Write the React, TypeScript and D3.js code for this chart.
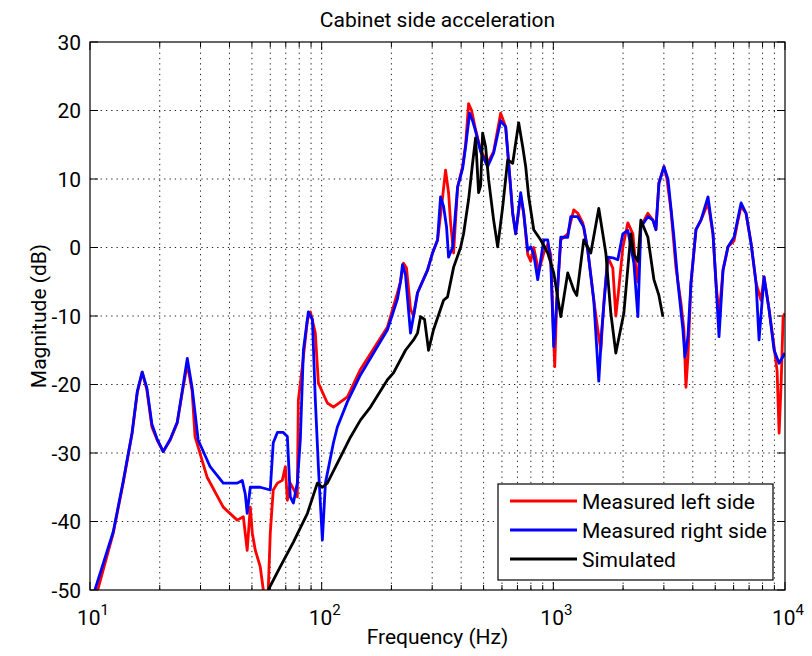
import React from "react";
import * as d3 from "d3";

const freqLeft = [10.8,12.6,13.9,15.2,16.0,16.8,17.6,18.5,19.5,20.7,22.2,23.8,25.0,26.3,27.6,28.4,32.0,37.6,43.2,45.9,47.7,49.2,50.2,51.7,54.3,56.0,56.5,58.3,58.8,60.0,61.8,64.4,67.6,69.7,71.1,73.2,76.2,78.5,79.3,82.5,86.8,89.4,93.9,96.8,105.8,112.4,129.2,147,192.3,212.5,218.9,225.6,232.4,241.8,249.2,259.3,286.4,301,316.4,329.3,342.6,353,360.1,371,386.1,405.8,418.1,430.7,443.8,461.8,485.4,520.4,552.5,592.5,622.7,641.6,667.6,687.8,723,744.9,775.1,798.7,823,864.9,909.1,946.1,974.5,994.1,1014,1034,1077,1154,1225,1275,1340,1408,1495,1556,1603,1652,1719,1806,1861,1917,1995,2097,2205,2271,2317,2387,2559,2691,2772,2856,3002,3093,3218,3382,3555,3662,3736,3811,3927,4128,4338,4651,4889,5037,5190,5401,5675,6026,6270,6461,6789,7138,7502,7882,8120,8539,8974,9245,9431,9620,9813,10000];
const dbLeft = [-50,-41.7,-34.4,-27.1,-21.2,-18.2,-20.8,-26.2,-28.1,-29.8,-28.1,-25.6,-21.2,-17,-21,-27.6,-33.5,-37.9,-39.8,-39.3,-44.2,-37.9,-41.7,-44.2,-46.6,-50,-52,-52,-50,-41.7,-35.4,-34.4,-34,-32,-36.9,-34.4,-35.5,-36.4,-22.3,-17.4,-10.6,-9.4,-12.5,-19.8,-22.7,-23.3,-21.8,-17.8,-11.6,-6.6,-5,-2.3,-3,-9,-10,-6.6,-3.3,-0.8,1.1,6,11.3,8,3.6,-0.8,8.8,11.8,15,21,20,17.2,14.2,12.3,14,19.6,17.6,12.3,5,2,7.5,5,-1,-2,0,-3.5,-0.8,0.5,-1,-9.6,-17.4,-8,1.1,2,5.5,5,3.6,-0.4,-7.7,-12,-15,-8,-1.4,-3,-10,-6,0,3.6,2,-3,-5,3,5,4,2.6,9.4,11.8,10,5.5,-2.9,-8.1,-12,-20.4,-16,-5.2,2.6,4,6.5,2,-5.2,-10,-3.3,0.1,1,4,6,5,0.6,-5.2,-7.7,-4.3,-9.1,-14.5,-18,-27.1,-20,-10.1,-9.6];

const freqRight = [10.5,12.6,13.9,15.2,16.0,16.8,17.6,18.5,19.5,20.7,22.2,23.8,25.0,26.3,27.6,29.3,33.0,37.6,43.2,45.4,46.8,47.7,49.2,54.3,60.0,61.8,64.4,68.3,71.1,73.2,75.5,78.5,80.9,83.4,87.6,91.2,93.9,96.8,100.7,103.8,112.4,116.9,129.2,147,192.3,212.5,218.9,223.3,230.1,241.8,249.2,259.3,286.4,301,316.4,326,335.9,346,353,367.4,386.1,405.8,418.1,435.1,448.2,461.8,485.4,520.4,552.5,592.5,622.7,641.6,667.6,687.8,723,744.9,775.1,798.7,823,856.4,909.1,946.1,974.5,1004,1034,1077,1154,1189,1275,1353,1408,1495,1571,1619,1719,1806,1898,1995,2097,2227,2317,2387,2559,2691,2772,2856,3002,3124,3316,3451,3626,3699,3811,3927,4128,4338,4651,4889,5037,5190,5401,5675,6026,6461,6789,7138,7502,7727,8120,8539,8974,9431,10000];
const dbRight = [-50,-41.5,-34.2,-27,-21,-18.2,-20.5,-25.8,-28,-29.8,-28,-25.5,-21,-16.2,-20.5,-28.1,-32,-34.4,-34.4,-34,-36,-38.8,-35,-35,-35.4,-28.5,-27,-27,-27.6,-36.4,-37.3,-34.4,-28,-15,-9.4,-10.5,-22.3,-32,-42.7,-34.4,-28.5,-26.2,-22.5,-18.6,-12,-7.5,-5,-2.5,-4,-12.5,-10,-6.6,-3.3,-0.8,1.1,7.4,6,3,-1.4,0,8.8,11.5,14.7,19.6,18.5,17,14,11.8,13.8,18.5,17.6,12.3,5,2,8,5,-0.4,0.1,-1,-4.7,1.1,1.1,-2,-14.5,-8,1.5,1.5,4.5,4.5,3,-0.4,-7.7,-19.5,-12,-1.4,-1.5,-1.8,2,2.5,-2.3,-10.1,3,4.5,4,2.6,9.4,11.8,10,1.5,-5.2,-12,-16,-13,-5.2,2.6,4,7.4,2,-5.2,-13,-3.3,0.1,1.5,6.5,5,0.6,-5.2,-13.5,-4.3,-9.1,-15,-16.9,-15.4];

const freqSim = [58.8,66.3,75.5,86.8,95.8,100.7,105.8,120.5,133.1,147,162.4,192.3,204.2,230.1,249.2,259.3,267.2,278,289.3,304,335.9,349.5,371,397.8,409.8,430.7,448.2,461.8,475.8,485.4,495.2,510.2,525.6,552.5,575,604.4,635.3,667.6,708.7,737.5,759.9,783,823,882.3,946.1,1004,1077,1154,1225,1262,1353,1451,1571,1685,1771,1861,2015,2161,2227,2317,2387,2559,2718,2856,2972];
const dbSim = [-50,-46.6,-43,-38.8,-34.4,-35,-34.4,-30.6,-27.7,-25.2,-23.3,-19.3,-18.3,-15,-13.5,-12.5,-10.1,-10.5,-15,-12,-7.7,-7.2,-2.9,0,2,7,12.3,16,8,9,16.7,14.7,9.9,4,0.1,5.9,12.8,12.3,18.2,14.7,11.8,7.4,2.6,1.1,-0.8,-3.7,-10.1,-3.7,-6.2,-7,1.1,-0.8,5.7,-0.8,-9.6,-15.4,-9.6,2,-1,-2,4,1.5,-4.7,-7,-10.1];

const yTicks = [-50, -40, -30, -20, -10, 0, 10, 20, 30];
const xMajor = [10, 100, 1000, 10000];
const xExponents = ["1", "2", "3", "4"];
const seriesNames = ["Measured left side", "Measured right side", "Simulated"];
const seriesColors = ["#ff0000", "#0000ff", "#000000"];

const W = 812, H = 656;
const L = 90, R = 785, T = 42, B = 590;
const FONT = "Roboto, 'Liberation Sans', Arial, sans-serif";

export default function App() {
  const x = d3.scaleLog().domain([10, 10000]).range([L, R]);
  const y = d3.scaleLinear().domain([-50, 30]).range([B, T]);

  const minor: number[] = [];
  for (let dec = 10; dec < 10000; dec *= 10) {
    for (let m = 2; m <= 9; m++) minor.push(dec * m);
  }

  const mk = (fs: number[], ds: number[]) =>
    d3.line<number>().x((_, i) => x(fs[i])).y((d) => y(d))(ds) || "";

  const series = [
    { f: freqLeft, d: dbLeft },
    { f: freqRight, d: dbRight },
    { f: freqSim, d: dbSim },
  ];

  const dash = "1.3,4";
  const legX = 498, legY = 484, legW = 275, legH = 96;
  const rowY = [501, 530, 559];

  return (
    <svg width={W} height={H} style={{ position: "absolute", left: 0, top: 0, background: "#fff" }} fontFamily={FONT}>
      <rect x={0} y={0} width={W} height={H} fill="#fff" />
      <defs>
        <clipPath id="plotclip">
          <rect x={L} y={T} width={R - L} height={B - T} />
        </clipPath>
      </defs>
      {/* grid */}
      <g stroke="#222" strokeWidth={1} strokeDasharray={dash}>
        {[...minor, ...xMajor.slice(1, 3)].map((v, i) => (
          <line key={"gx" + i} x1={x(v)} x2={x(v)} y1={T} y2={B} />
        ))}
        {yTicks.slice(1, -1).map((v, i) => (
          <line key={"gy" + i} x1={L} x2={R} y1={y(v)} y2={y(v)} />
        ))}
      </g>
      {/* ticks */}
      <g stroke="#000" strokeWidth={1}>
        {minor.map((v, i) => (
          <g key={"mt" + i}>
            <line x1={x(v)} x2={x(v)} y1={B} y2={B - 5} />
            <line x1={x(v)} x2={x(v)} y1={T} y2={T + 5} />
          </g>
        ))}
        {xMajor.map((v, i) => (
          <g key={"Mt" + i}>
            <line x1={x(v)} x2={x(v)} y1={B} y2={B - 8} />
            <line x1={x(v)} x2={x(v)} y1={T} y2={T + 8} />
          </g>
        ))}
        {yTicks.map((v, i) => (
          <g key={"yt" + i}>
            <line x1={L} x2={L + 8} y1={y(v)} y2={y(v)} />
            <line x1={R} x2={R - 8} y1={y(v)} y2={y(v)} />
          </g>
        ))}
      </g>
      {/* data */}
      <g clipPath="url(#plotclip)" fill="none" strokeWidth={2.8} strokeLinejoin="round">
        {series.map((s, i) => (
          <path key={"s" + i} d={mk(s.f, s.d)} stroke={seriesColors[i]} />
        ))}
      </g>
      {/* box */}
      <rect x={L} y={T} width={R - L} height={B - T} fill="none" stroke="#000" strokeWidth={1.2} />
      {/* y tick labels */}
      <g fontSize={21} textAnchor="end" fill="#000">
        {yTicks.map((v, i) => (
          <text key={"yl" + i} x={L - 9} y={y(v) + 7.5}>{v}</text>
        ))}
      </g>
      {/* x tick labels */}
      <g fontSize={21} fill="#000">
        {xMajor.map((v, i) => (
          <text key={"xl" + i} x={x(v) - 13} y={625}>
            10<tspan fontSize={15} dy={-10}>{xExponents[i]}</tspan>
          </text>
        ))}
      </g>
      {/* labels */}
      <text x={(L + R) / 2} y={27} fontSize={21} textAnchor="middle">Cabinet side acceleration</text>
      <text x={(L + R) / 2} y={644} fontSize={21} textAnchor="middle">Frequency (Hz)</text>
      <text transform={`translate(46,${(T + B) / 2}) rotate(-90)`} fontSize={21} textAnchor="middle">Magnitude (dB)</text>
      {/* legend */}
      <rect x={legX} y={legY} width={legW} height={legH} fill="#fff" stroke="#000" strokeWidth={1.2} />
      {seriesNames.map((n, i) => (
        <g key={"lg" + i}>
          <line x1={510} x2={577} y1={rowY[i]} y2={rowY[i]} stroke={seriesColors[i]} strokeWidth={2.8} />
          <text x={582} y={rowY[i] + 8} fontSize={21}>{n}</text>
        </g>
      ))}
    </svg>
  );
}
